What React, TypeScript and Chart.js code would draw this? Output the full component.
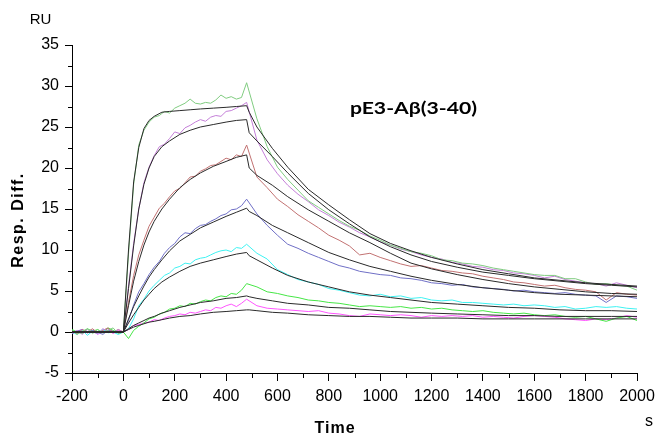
import React, { useEffect, useRef } from 'react';
import { Chart, registerables } from 'chart.js';

Chart.register(...registerables);

// ---------- data ----------
const dataTimes = [
  -200, -180, -160, -140, -120, -100, -80, -60, -40, -20, 0,
  20, 40, 60, 80, 100, 120, 140, 160, 180, 200, 220, 240, 260, 280, 300, 320, 340, 360, 380, 400, 420, 440, 460, 480,
  520, 560, 600, 640, 680, 720, 760, 800, 840, 880, 920, 960, 1000, 1040, 1080, 1120, 1160, 1200, 1240, 1280, 1320,
  1360, 1400, 1440, 1480, 1520, 1560, 1600, 1640, 1680, 1720, 1760, 1800, 1840, 1880, 1920, 1960, 2000,
];

const greenTop = [
  0.2, -0.3, 0.1, 0.4, -0.2, 0.3, -0.1, 0.2, 0.5, -0.2, 0.0,
  9.5, 18.0, 22.8, 24.6, 25.6, 26.2, 26.4, 26.9, 26.7, 27.3, 27.6, 27.9, 28.4, 27.9, 27.8, 28.0, 27.9, 28.3, 28.9, 28.5, 28.7, 28.4, 28.6, 30.4,
  26.0, 22.6, 20.1, 18.6, 17.3, 16.0, 15.2, 14.4, 13.6, 12.9, 12.4, 11.7, 11.2, 10.6, 10.2, 9.8, 9.6, 9.3, 8.8, 8.7,
  8.4, 8.3, 8.1, 7.8, 7.6, 7.4, 7.2, 7.0, 6.9, 6.9, 6.5, 6.5, 6.1, 5.8, 5.9, 5.7, 5.6, 5.1,
];
const violet = [
  -0.1, 0.2, -0.3, 0.3, 0.0, -0.2, 0.4, 0.1, -0.1, 0.3, 0.0,
  5.6, 10.8, 15.0, 18.2, 20.1, 21.5, 22.6, 22.9, 23.6, 24.4, 24.2, 24.9, 25.2, 25.6, 25.9, 25.7, 26.2, 26.4, 26.3, 26.9, 27.0, 27.3, 27.6, 28.0,
  23.4, 21.0, 19.3, 17.9, 16.8, 15.9, 14.9, 14.2, 13.4, 12.8, 12.1, 11.6, 11.0, 10.6, 10.1, 9.8, 9.4, 9.1, 8.9, 8.5,
  8.3, 8.0, 7.9, 7.6, 7.5, 7.2, 7.1, 6.9, 6.6, 6.8, 6.4, 6.2, 6.0, 5.9, 5.6, 6.0, 5.7, 5.4,
];
const brown = [
  0.1, -0.2, 0.3, 0.0, 0.4, -0.1, 0.2, 0.5, 0.0, 0.3, 0.0,
  3.6, 6.9, 9.4, 11.2, 12.9, 14.0, 15.1, 15.7, 16.5, 17.2, 17.5, 18.2, 18.9, 19.0, 19.6, 19.9, 20.3, 20.4, 20.8, 21.2, 21.0, 21.6, 21.4, 22.8,
  18.9, 17.6, 16.2, 15.3, 14.3, 13.5, 12.7, 11.8, 11.2, 10.5, 9.4, 9.6, 9.1, 8.7, 8.3, 8.0, 8.1, 7.8, 7.5, 7.4,
  7.2, 7.1, 6.8, 6.6, 6.4, 6.1, 6.0, 5.8, 5.6, 5.7, 5.4, 5.2, 5.1, 4.9, 3.9, 4.8, 4.6, 4.5,
];
const blue = [
  -0.2, 0.1, 0.3, -0.1, 0.2, 0.0, -0.3, 0.2, 0.1, -0.1, 0.0,
  1.4, 3.3, 4.9, 5.9, 7.0, 7.9, 8.6, 9.6, 10.3, 10.8, 11.6, 12.1, 12.0, 12.6, 13.0, 13.1, 13.5, 13.8, 14.2, 14.4, 14.9, 15.0, 15.4, 16.2,
  14.4, 13.0, 11.8, 10.7, 10.2, 9.6, 9.1, 8.6, 8.1, 7.8, 7.4, 7.2, 7.0, 6.9, 6.6, 6.5, 6.3, 6.0, 5.9, 5.7,
  5.8, 5.5, 5.4, 5.3, 5.2, 5.0, 5.1, 4.9, 4.8, 4.7, 4.8, 4.6, 4.5, 4.4, 3.6, 4.4, 4.3, 4.1,
];
const cyan = [
  0.0, -0.3, 0.2, -0.4, 0.1, -0.2, 0.3, -0.1, 0.0, -0.3, 0.0,
  0.4, 1.6, 3.2, 4.0, 5.0, 5.7, 6.3, 6.9, 7.2, 7.8, 8.0, 8.4, 8.3, 8.8, 9.0, 9.1, 9.4, 9.7, 9.9, 10.0, 9.8, 10.3, 10.2, 10.7,
  9.6, 8.9, 7.6, 7.0, 6.4, 6.1, 5.8, 5.3, 5.1, 4.8, 4.5, 4.4, 4.6, 4.3, 4.4, 4.1, 4.2, 3.9, 3.8, 3.9,
  3.6, 3.6, 3.5, 3.4, 3.3, 3.4, 3.2, 3.3, 3.2, 3.0, 3.1, 2.8, 2.9, 3.1, 3.0, 3.1, 2.9, 2.8,
];
const lightGreen = [
  0.3, 0.0, -0.2, 0.4, 0.1, 0.3, -0.1, 0.5, 0.2, -0.1, 0.0,
  -0.8, 0.2, 0.7, 1.1, 1.6, 1.8, 2.2, 2.4, 2.8, 2.9, 3.2, 3.1, 3.5, 3.4, 3.7, 3.9, 3.8, 4.2, 4.4, 4.3, 4.7, 4.6, 5.1, 5.9,
  5.5, 4.9, 4.7, 4.4, 4.2, 3.9, 3.8, 3.6, 3.5, 3.3, 3.1, 3.2, 3.1, 3.0, 3.1, 2.9, 3.0, 2.8, 2.9, 2.7,
  2.6, 2.5, 2.6, 2.4, 2.3, 2.2, 2.3, 2.1, 2.0, 2.1, 1.9, 1.8, 1.9, 1.6, 1.3, 1.7, 1.9, 1.4,
];
const magenta = [
  -0.2, 0.1, 0.3, -0.1, 0.2, -0.3, 0.1, 0.4, -0.2, 0.2, 0.0,
  0.3, 0.8, 0.9, 1.1, 1.2, 1.5, 1.4, 1.7, 1.9, 2.0, 2.2, 2.1, 2.4, 2.3, 2.5, 2.7, 2.6, 3.0, 2.9, 3.2, 3.4, 3.1, 3.5, 4.0,
  3.2, 2.9, 2.8, 2.7, 2.6, 2.5, 2.6, 2.3, 2.2, 2.0, 1.9, 2.2, 2.1, 2.0, 2.1, 2.0, 1.8, 2.0, 1.9, 2.0,
  1.9, 2.0, 1.8, 1.9, 1.8, 1.7, 1.9, 2.0, 1.9, 1.8, 1.6, 1.5, 1.4, 1.6, 1.5, 1.7, 2.0, 1.8,
];

const fitTimes = [
  -200, 0, 20, 40, 60, 80, 100, 120, 150, 180, 220, 260, 300, 350, 400, 440, 480, 490, 520, 580,
  640, 720, 800, 880, 960, 1040, 1120, 1200, 1300, 1400, 1500, 1600, 1700, 1800, 1900, 2000,
];
const fit1 = [0, 0, 10.0, 18.3, 22.5, 24.8, 25.8, 26.3, 26.8, 26.9, 27.0, 27.1, 27.2, 27.3, 27.4, 27.5, 27.6, 26.8, 25.0, 22.4, 20.1, 17.4, 15.5, 13.7, 12.0, 10.8, 9.9, 9.1, 8.3, 7.6, 7.1, 6.6, 6.3, 6.0, 5.8, 5.6];
const fit2 = [0, 0, 5.3, 10.5, 15.0, 18.0, 20.0, 21.4, 22.6, 23.3, 24.1, 24.6, 25.0, 25.3, 25.6, 25.8, 25.9, 24.3, 23.3, 21.4, 19.4, 16.9, 14.9, 13.2, 11.6, 10.4, 9.4, 8.6, 7.9, 7.3, 6.9, 6.5, 6.2, 5.9, 5.7, 5.5];
const fit3 = [0, 0, 3.2, 6.2, 8.6, 10.6, 12.2, 13.5, 15.0, 16.2, 17.6, 18.6, 19.4, 20.2, 20.8, 21.3, 21.6, 20.0, 19.1, 17.9, 16.5, 14.9, 13.5, 12.1, 10.9, 9.6, 8.4, 7.7, 7.0, 6.4, 5.9, 5.5, 5.2, 4.9, 4.7, 4.6];
const fit4 = [0, 0, 1.6, 3.1, 4.4, 5.6, 6.7, 7.6, 8.8, 9.9, 11.1, 11.9, 12.7, 13.4, 14.1, 14.6, 15.1, 14.7, 14.2, 13.0, 12.1, 10.9, 9.7, 8.8, 8.0, 7.4, 6.8, 6.3, 5.8, 5.4, 5.1, 4.8, 4.6, 4.5, 4.4, 4.3];
const fit5 = [0, 0, 1.1, 2.1, 3.0, 3.9, 4.6, 5.3, 6.1, 6.7, 7.4, 8.0, 8.4, 8.8, 9.2, 9.5, 9.7, 9.3, 8.8, 7.8, 6.9, 6.1, 5.5, 4.9, 4.5, 4.2, 3.9, 3.6, 3.4, 3.2, 3.0, 2.9, 2.7, 2.6, 2.6, 2.5];
const fit6 = [0, 0, 0.4, 0.8, 1.1, 1.4, 1.7, 1.9, 2.3, 2.6, 3.0, 3.3, 3.6, 3.8, 4.1, 4.2, 4.4, 4.3, 4.1, 3.8, 3.5, 3.3, 3.0, 2.9, 2.7, 2.5, 2.4, 2.3, 2.2, 2.1, 2.0, 2.0, 1.9, 1.9, 1.9, 1.9];
const fit7 = [0, 0, 0.3, 0.6, 0.8, 1.0, 1.2, 1.3, 1.5, 1.7, 1.9, 2.0, 2.2, 2.4, 2.5, 2.6, 2.7, 2.7, 2.6, 2.4, 2.3, 2.1, 2.0, 1.9, 1.9, 1.8, 1.7, 1.7, 1.7, 1.6, 1.6, 1.6, 1.6, 1.6, 1.6, 1.6];

const xTickValues = [-200, 0, 200, 400, 600, 800, 1000, 1200, 1400, 1600, 1800, 2000];
const xMinorTicks = [-100, 100, 300, 500, 700, 900, 1100, 1300, 1500, 1700, 1900];
const yTickValues = [-5, 0, 5, 10, 15, 20, 25, 30, 35];
const yMinorTicks = [-2.5, 2.5, 7.5, 12.5, 17.5, 22.5, 27.5, 32.5];

const titleText = 'pE3-Aβ(3-40)';
const yUnit = 'RU';
const yTitle = 'Resp. Diff.';
const xTitle = 'Time';
const xUnit = 's';

const seriesList = [
  { values: greenTop, color: '#80cc80' },
  { values: violet, color: '#c47fd8' },
  { values: brown, color: '#c27272' },
  { values: blue, color: '#6f6fc6' },
  { values: cyan, color: '#3ef2f2' },
  { values: lightGreen, color: '#46e646' },
  { values: magenta, color: '#ff55ff' },
];
const fitList = [fit1, fit2, fit3, fit4, fit5, fit6, fit7];

const FONT = '"Liberation Sans", Arial, sans-serif';

const decorPlugin = {
  id: 'decor',
  afterDraw(chart: any) {
    const ctx = chart.ctx as CanvasRenderingContext2D;
    const xs = chart.scales.x;
    const ys = chart.scales.y;
    ctx.save();
    ctx.strokeStyle = '#000';
    ctx.lineWidth = 1;
    xMinorTicks.forEach((v) => {
      const px = Math.round(xs.getPixelForValue(v)) + 0.5;
      ctx.beginPath();
      ctx.moveTo(px, ys.bottom);
      ctx.lineTo(px, ys.bottom + 5);
      ctx.stroke();
    });
    yMinorTicks.forEach((v) => {
      const py = Math.round(ys.getPixelForValue(v)) + 0.5;
      ctx.beginPath();
      ctx.moveTo(xs.left - 4, py);
      ctx.lineTo(xs.left, py);
      ctx.stroke();
    });

    ctx.fillStyle = '#000';
    ctx.textAlign = 'center';
    ctx.textBaseline = 'middle';
    ctx.font = `15px ${FONT}`;
    ctx.fillText(yUnit, 40.5, 19.5);

    ctx.font = `16px ${FONT}`;
    ctx.fillText(xUnit, 649, 422);

    (ctx as any).letterSpacing = '1px';
    ctx.font = `bold 16px ${FONT}`;
    ctx.fillText(xTitle, 335, 429);

    ctx.save();
    ctx.translate(19, 220);
    ctx.rotate(-Math.PI / 2);
    (ctx as any).letterSpacing = '1.5px';
    ctx.fillText(yTitle, 0, 0);
    ctx.restore();

    (ctx as any).letterSpacing = '0px';
    ctx.save();
    ctx.font = `bold 17px Lato, ${FONT}`;
    ctx.textAlign = 'left';
    ctx.textBaseline = 'alphabetic';
    const w = ctx.measureText(titleText).width;
    const sx = 127 / w;
    ctx.translate(350, 113.5);
    ctx.scale(sx, 1);
    ctx.fillText(titleText, 0, 0);
    ctx.restore();

    ctx.restore();
  },
};

export default function App() {
  const ref = useRef<HTMLCanvasElement | null>(null);
  useEffect(() => {
    if (!ref.current) return;
    const mk = (times: number[], vals: number[]) => vals.map((v, i) => ({ x: times[i], y: v }));
    const datasets: any[] = [];
    seriesList.forEach((s) => {
      datasets.push({
        data: mk(dataTimes, s.values),
        borderColor: s.color,
        borderWidth: 1,
        pointRadius: 0,
        tension: 0,
        fill: false,
        order: 2,
      });
    });
    fitList.forEach((f) => {
      datasets.push({
        data: mk(fitTimes, f),
        borderColor: '#2a2a2a',
        borderWidth: 1,
        pointRadius: 0,
        tension: 0,
        fill: false,
        order: 1,
      });
    });
    const chart = new Chart(ref.current, {
      type: 'line',
      data: { datasets },
      plugins: [decorPlugin],
      options: {
        animation: false,
        responsive: false,
        devicePixelRatio: 1,
        layout: { padding: { top: 45, right: 18, bottom: 0, left: 0 } },
        plugins: { legend: { display: false }, tooltip: { enabled: false }, title: { display: false } },
        scales: {
          x: {
            type: 'linear',
            min: -200,
            max: 2000,
            afterBuildTicks: (s: any) => {
              s.ticks = xTickValues.map((v) => ({ value: v }));
            },
            afterFit: (s: any) => {
              s.height = 64;
              s.paddingLeft = 0;
              s.paddingRight = 0;
            },
            grid: { display: true, drawOnChartArea: false, drawTicks: true, tickLength: 8, color: '#000', lineWidth: 1 },
            border: { display: true, color: '#000', width: 1 },
            ticks: {
              color: '#000',
              font: { family: FONT, size: 16 },
              padding: 6,
              maxRotation: 0,
              autoSkip: false,
              callback: (v: any) => String(v),
            },
          },
          y: {
            type: 'linear',
            min: -5,
            max: 35,
            afterBuildTicks: (s: any) => {
              s.ticks = yTickValues.map((v) => ({ value: v }));
            },
            afterFit: (s: any) => {
              s.width = 72;
              s.paddingTop = 0;
              s.paddingBottom = 0;
            },
            grid: { display: true, drawOnChartArea: false, drawTicks: true, tickLength: 7, color: '#000', lineWidth: 1 },
            border: { display: true, color: '#000', width: 1 },
            ticks: {
              color: '#000',
              font: { family: FONT, size: 16 },
              padding: 6,
              autoSkip: false,
              callback: (v: any) => String(v),
            },
          },
        },
      },
    });
    return () => chart.destroy();
  }, []);
  return (
    <div style={{ position: 'absolute', left: 0, top: 0, width: 655, height: 437, background: '#fff' }}>
      <canvas ref={ref} width={655} height={437} style={{ width: 655, height: 437, display: 'block' }} />
    </div>
  );
}
